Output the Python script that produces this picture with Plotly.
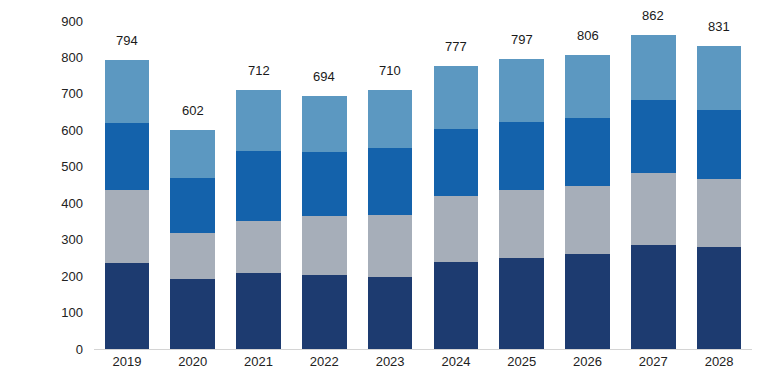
import plotly.graph_objects as go

years = ["2019", "2020", "2021", "2022", "2023", "2024", "2025", "2026", "2027", "2028"]
seg1 = [235, 191, 208, 203, 197, 239, 251, 260, 286, 279]
seg2 = [200, 126, 143, 162, 172, 182, 184, 187, 197, 187]
seg3 = [184, 152, 191, 175, 182, 184, 189, 187, 201, 190]
seg4 = [175, 133, 170, 154, 159, 172, 173, 172, 178, 175]
totals = [794, 602, 712, 694, 710, 777, 797, 806, 862, 831]

colors = ["#1d3b70", "#a6aeb9", "#1462ab", "#5c98c1"]

fig = go.Figure()
for vals, c in zip([seg1, seg2, seg3, seg4], colors):
    fig.add_trace(go.Bar(x=years, y=vals, marker=dict(color=c, line=dict(width=0)),
                         showlegend=False, hoverinfo="skip"))

for i, t in enumerate(totals):
    fig.add_annotation(x=i, y=t, xref="x", yref="y", text=str(t), showarrow=False,
                       yanchor="bottom", yshift=10, font=dict(size=13, color="#1a1a1a"))

fig.update_layout(
    width=781, height=385,
    barmode="stack", bargap=0.32,
    margin=dict(l=94, r=29, t=21, b=36),
    paper_bgcolor="white", plot_bgcolor="white",
    font=dict(family="Arial, Liberation Sans, sans-serif", size=13, color="#222222"),
    xaxis=dict(type="category", showgrid=False, showline=True, linecolor="#d4d4d4", linewidth=1,
               ticks="", tickfont=dict(size=13), range=[-0.5, 9.5]),
    yaxis=dict(range=[0, 900], dtick=100, showgrid=False, zeroline=False,
               showline=False, ticks="", tickfont=dict(size=13), ticklabelstandoff=10),
)

fig.write_html("out.html", config={"displayModeBar": False},
               post_script="document.body.style.margin='0';")
